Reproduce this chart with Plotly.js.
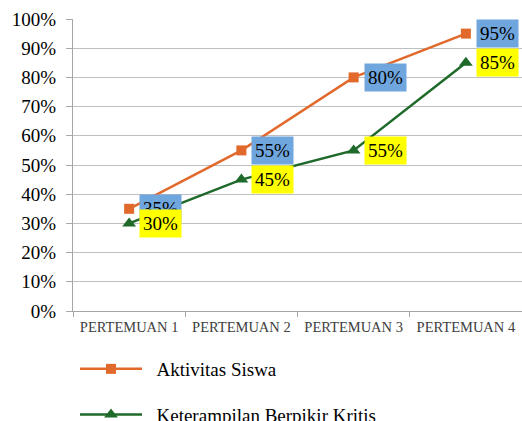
<!DOCTYPE html>
<html>
<head>
<meta charset="utf-8">
<script src="https://cdn.plot.ly/plotly-3.0.1.min.js"></script>
<style>html,body{margin:0;padding:0;background:#fff;}#chart{width:522px;height:421px;}</style>
</head>
<body>
<div id="chart"></div>
<script>
var categories = ["PERTEMUAN 1", "PERTEMUAN 2", "PERTEMUAN 3", "PERTEMUAN 4"];
var aktivitasSiswa = [35, 55, 80, 95];
var keterampilanBerpikirKritis = [30, 45, 55, 85];
var seriesNames = ["Aktivitas Siswa", "Keterampilan Berpikir Kritis"];
var yTickVals = [0, 10, 20, 30, 40, 50, 60, 70, 80, 90, 100];
var yTickText = ["0%", "10%", "20%", "30%", "40%", "50%", "60%", "70%", "80%", "90%", "100%"];

var orange = "#E2692C";
var green = "#1F6A2A";
var serif = "Liberation Serif";

var traces = [
  {
    x: categories, y: aktivitasSiswa, name: "&nbsp;&nbsp;" + seriesNames[0], type: "scatter", mode: "lines+markers",
    line: {color: orange, width: 2.5},
    marker: {symbol: "square", size: 10, color: orange},
    legendgroup: "a"
  },
  {
    x: categories, y: keterampilanBerpikirKritis, name: "&nbsp;&nbsp;" + seriesNames[1], type: "scatter", mode: "lines+markers",
    line: {color: green, width: 2.5},
    marker: {symbol: "triangle-up", size: 12, color: green},
    legendgroup: "b"
  }
];

var annotations = [];
function addLabels(vals, bg) {
  for (var i = 0; i < categories.length; i++) {
    annotations.push({
      x: categories[i], y: vals[i], xref: "x", yref: "y",
      text: vals[i] + "%", showarrow: false,
      xanchor: "left", yanchor: "middle", xshift: 10,
      bgcolor: bg, borderpad: 3,
      font: {family: serif, size: 19, color: "#000"}
    });
  }
}
addLabels(aktivitasSiswa, "#6FA6DD");
addLabels(keterampilanBerpikirKritis, "#FFFF00");

var layout = {
  width: 522, height: 421,
  margin: {l: 73, r: 0, t: 19, b: 110, autoexpand: false},
  paper_bgcolor: "#fff", plot_bgcolor: "#fff",
  showlegend: true,
  font: {family: serif},
  xaxis: {
    type: "category", range: [-0.5, 3.5], tickson: "boundaries",
    ticks: "outside", ticklen: 5, tickcolor: "#A6A6A6",
    showgrid: false, showline: true, linecolor: "#A6A6A6", linewidth: 1,
    tickangle: 0, automargin: false, ticklabelstandoff: 3,
    tickfont: {family: serif, size: 14.5, color: "#404040"}
  },
  yaxis: {
    range: [0, 100], tickmode: "array", tickvals: yTickVals, ticktext: yTickText,
    ticks: "outside", ticklen: 6, tickcolor: "#A6A6A6", automargin: false,
    ticklabelstandoff: 6,
    showgrid: true, gridcolor: "#BFBFBF", gridwidth: 1,
    showline: true, linecolor: "#A6A6A6", zeroline: false,
    tickfont: {family: serif, size: 19, color: "#000"}
  },
  legend: {
    orientation: "v", xref: "container", yref: "container",
    x: 75 / 522, y: 1 - 350 / 421, xanchor: "left", yanchor: "top",
    tracegroupgap: 18, itemwidth: 62,
    font: {family: serif, size: 19, color: "#000"},
    bgcolor: "rgba(0,0,0,0)"
  },
  annotations: annotations
};

Plotly.newPlot("chart", traces, layout, {displayModeBar: false, staticPlot: true});
</script>
</body>
</html>
